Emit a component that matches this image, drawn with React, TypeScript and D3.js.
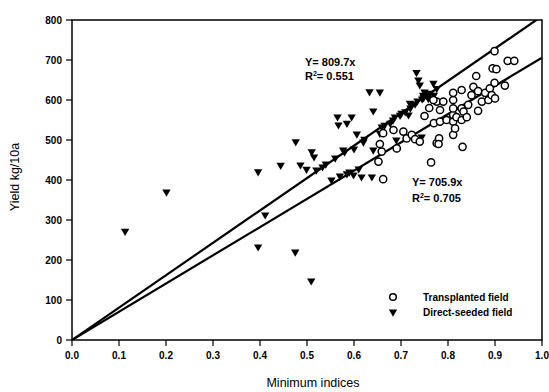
import React from 'react'
import * as d3 from 'd3'

// Transplanted field (open circles): [minimum index, yield]
const transplanted: [number, number][] = [
  [0.652,446],[0.662,402],[0.655,490],[0.659,471],[0.662,517],[0.684,525],[0.691,479],
  [0.705,521],[0.712,504],[0.723,513],[0.730,502],[0.740,496],[0.764,444],
  [0.770,542],[0.776,492],[0.776,596],[0.781,504],[0.780,490],[0.783,546],[0.783,575],
  [0.790,596],[0.797,550],[0.811,513],[0.811,546],[0.811,563],[0.811,579],[0.811,600],
  [0.811,618],[0.815,529],[0.818,557],[0.831,483],[0.829,550],[0.829,579],[0.829,625],
  [0.833,571],[0.840,557],[0.843,588],[0.850,612],[0.854,633],[0.860,660],[0.864,573],
  [0.864,622],[0.872,596],[0.879,618],[0.886,600],[0.889,629],[0.893,612],[0.895,679],
  [0.899,643],[0.899,722],[0.900,604],[0.903,677],[0.921,636],[0.927,698],[0.941,698],
  [0.769,600],[0.760,580],[0.750,560]
]

// Direct-seeded field (filled triangles)
const directSeeded: [number, number][] = [
  [0.113,272],[0.201,370],[0.396,233],[0.396,421],[0.411,313],[0.444,437],[0.475,220],
  [0.476,496],[0.486,438],[0.499,427],[0.509,148],[0.510,471],[0.515,458],[0.533,433],
  [0.552,400],[0.565,558],[0.567,538],[0.577,475],[0.585,542],[0.595,558],[0.599,413],
  [0.606,515],[0.616,408],[0.633,621],[0.638,408],[0.641,573],[0.641,475],[0.655,620],
  [0.655,517],[0.659,533],[0.677,542],[0.690,500],[0.687,558],[0.701,567],[0.709,571],
  [0.716,563],[0.719,592],[0.733,669],[0.737,650],[0.740,638],[0.744,508],[0.747,612],
  [0.748,606],[0.758,604],[0.762,617],[0.769,642],[0.776,629],[0.770,612],[0.765,600],
  [0.720,580],[0.730,590],[0.750,620],[0.600,478],[0.620,495],[0.580,470],[0.540,440],
  [0.520,425],[0.570,410],[0.590,420],[0.560,455],[0.622,502],[0.665,537],[0.683,550],
  [0.698,562],[0.735,598],[0.745,603],[0.755,612],[0.585,416],[0.610,428]
]

const slopes = [809.7, 705.9]
const xTicks = [0, 0.1, 0.2, 0.3, 0.4, 0.5, 0.6, 0.7, 0.8, 0.9, 1.0]
const yTicks = [0, 100, 200, 300, 400, 500, 600, 700, 800]

export default function App() {
  const W = 549, H = 392
  const x = d3.scaleLinear().domain([0, 1]).range([72, 542])
  const y = d3.scaleLinear().domain([0, 800]).range([340, 20])
  const font = 'Arial, "Liberation Sans", sans-serif'
  const tri = d3.symbol().type(d3.symbolTriangle).size(30)()
  const line = d3.line<[number, number]>().x(d => x(d[0])).y(d => y(d[1]))

  return (
    <svg width={W} height={H} style={{ position: 'absolute', left: 0, top: 0, background: '#fff' }} fontFamily={font}>
      <defs>
        <clipPath id="plot"><rect x={72} y={20} width={470} height={320} /></clipPath>
      </defs>
      {/* frame */}
      <rect x={72} y={20} width={470} height={320} fill="none" stroke="#000" strokeWidth={1.5} />
      {/* y ticks */}
      {yTicks.map(t => (
        <g key={'y' + t}>
          <line x1={66} x2={72} y1={y(t)} y2={y(t)} stroke="#000" strokeWidth={1.2} />
          <text x={62} y={y(t) + 3.5} textAnchor="end" fontSize={10} fontWeight="bold">{t}</text>
        </g>
      ))}
      {/* x ticks */}
      {xTicks.map(t => (
        <g key={'x' + t}>
          <line x1={x(t)} x2={x(t)} y1={340} y2={346} stroke="#000" strokeWidth={1.2} />
          <text x={x(t)} y={359} textAnchor="middle" fontSize={10} fontWeight="bold">{d3.format('.1f')(t)}</text>
        </g>
      ))}
      <text x={313} y={387} textAnchor="middle" fontSize={12.5}>Minimum indices</text>
      <text transform="translate(19,177) rotate(-90)" textAnchor="middle" fontSize={12.5}>Yield kg/10a</text>

      {/* regression lines */}
      <g clipPath="url(#plot)">
        {slopes.map(s => (
          <path key={s} d={line([[0, 0], [1, s]]) || ''} fill="none" stroke="#000" strokeWidth={2.2} />
        ))}
      </g>

      {/* points */}
      {directSeeded.map((d, i) => (
        <path key={'d' + i} d={tri || ''} transform={`translate(${x(d[0])},${y(d[1])}) rotate(180)`} fill="#000" />
      ))}
      {transplanted.map((d, i) => (
        <circle key={'t' + i} cx={x(d[0])} cy={y(d[1])} r={3.6} fill="#fff" stroke="#000" strokeWidth={1.5} />
      ))}

      {/* equations */}
      <text x={305} y={66} fontSize={11} fontWeight="bold">Y= 809.7x</text>
      <text x={305} y={80} fontSize={11} fontWeight="bold">R<tspan dy={-4} fontSize={7}>2</tspan><tspan dy={4}>= 0.551</tspan></text>
      <text x={412} y={186} fontSize={11} fontWeight="bold">Y= 705.9x</text>
      <text x={412} y={202} fontSize={11} fontWeight="bold">R<tspan dy={-4} fontSize={7}>2</tspan><tspan dy={4}>= 0.705</tspan></text>

      {/* legend */}
      <circle cx={393} cy={297} r={3.3} fill="#fff" stroke="#000" strokeWidth={1.5} />
      <text x={423} y={300.5} fontSize={10} fontWeight="bold">Transplanted field</text>
      <path d={tri || ''} transform="translate(393,312) rotate(180)" fill="#000" />
      <text x={423} y={315.5} fontSize={10} fontWeight="bold">Direct-seeded field</text>
    </svg>
  )
}
